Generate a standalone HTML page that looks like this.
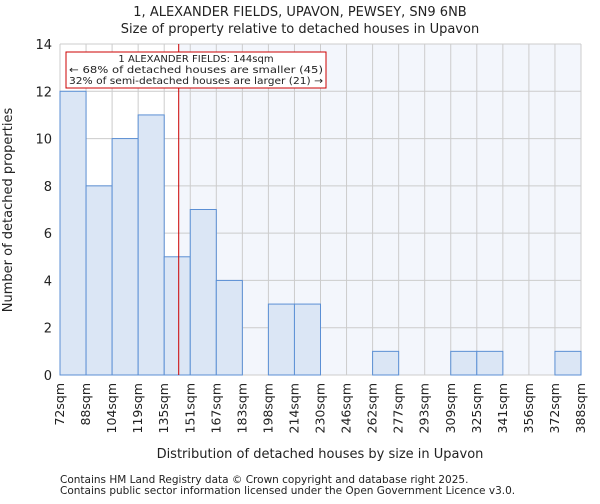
<!DOCTYPE html>
<html><head><meta charset="utf-8"><style>
body{margin:0;background:#fff;font-family:"DejaVu Sans","Liberation Sans",sans-serif;}
svg text{font-family:"DejaVu Sans","Liberation Sans",sans-serif;fill:#222;}
</style></head><body>
<svg id="c" width="600" height="500" xmlns="http://www.w3.org/2000/svg"></svg>
<script>
const categories=["72sqm","88sqm","104sqm","119sqm","135sqm","151sqm","167sqm","183sqm","198sqm","214sqm","230sqm","246sqm","262sqm","277sqm","293sqm","309sqm","325sqm","341sqm","356sqm","372sqm","388sqm"];
const counts=[12,8,10,11,5,7,4,0,3,3,0,0,1,0,0,1,1,0,0,1];
const yTicks=[0,2,4,6,8,10,12,14];
const marker=[144];
const binStart=72,binWidth=15.8;
const X0=60,X1=581,Y0=375,Y1=44,yMax=14;
const n=counts.length;
const xb=i=>X0+(X1-X0)*i/n;
const xv=v=>X0+(X1-X0)*(v-binStart)/(binWidth*n);
const y=v=>Y0-(Y0-Y1)*v/yMax;
const svg=document.getElementById('c');
function add(tag,attrs,txt){const e=document.createElementNS('http://www.w3.org/2000/svg',tag);for(const k in attrs)e.setAttribute(k,attrs[k]);if(txt!==undefined)e.textContent=txt;svg.appendChild(e);return e;}
const mx=xv(marker[0]);
let e=add('rect',{x:mx,y:Y1,width:X1-mx,height:Y0-Y1,fill:'#f3f6fc'});

for(let i=0;i<=n;i++){e=add('line',{x1:xb(i),x2:xb(i),y1:Y1,y2:Y0,stroke:'#ccc','stroke-width':1});
}
yTicks.forEach(t=>{e=add('line',{x1:X0,x2:X1,y1:y(t),y2:y(t),stroke:'#ccc','stroke-width':1});

e=add('text',{x:X0-8,y:y(t)+5,'text-anchor':'end','font-size':13},t);
});
counts.forEach((c,i)=>{if(c<=0)return;e=add('rect',{x:xb(i),y:y(c),width:xb(i+1)-xb(i),height:Y0-y(c),fill:'#dbe6f5',stroke:'#5b8fd4','stroke-width':1});
});
categories.forEach((c,i)=>{const tx=xb(i)+4;e=add('text',{x:tx,y:Y0+8,'text-anchor':'end','font-size':12.5,transform:`rotate(-90 ${tx} ${Y0+8})`},c);
});
e=add('line',{x1:mx,x2:mx,y1:Y1,y2:Y0,stroke:'#cc0000','stroke-width':1});

e=add('rect',{x:66,y:52,width:260,height:36,fill:'#fff',stroke:'#cc0000','stroke-width':1});

[["1 ALEXANDER FIELDS: 144sqm",62],["← 68% of detached houses are smaller (45)",73],["32% of semi-detached houses are larger (21) →",84]].forEach(([t,yy])=>{
e=add('text',{x:196,y:yy,'text-anchor':'middle','font-size':10,textLength:t.length>30?254:0,lengthAdjust:'spacingAndGlyphs'},t);
if(t.length<=30)e.removeAttribute('textLength');
});
e=add('text',{x:300,y:16,'text-anchor':'middle','font-size':13},"1, ALEXANDER FIELDS, UPAVON, PEWSEY, SN9 6NB");

e=add('text',{x:300,y:33,'text-anchor':'middle','font-size':13},"Size of property relative to detached houses in Upavon");

e=add('text',{x:12,y:210,'text-anchor':'middle','font-size':13,transform:'rotate(-90 12 210)'},"Number of detached properties");

e=add('text',{x:320,y:458,'text-anchor':'middle','font-size':13},"Distribution of detached houses by size in Upavon");

e=add('text',{x:60,y:483,'font-size':10.5,fill:'#444'},"Contains HM Land Registry data © Crown copyright and database right 2025.");

e=add('text',{x:60,y:494,'font-size':10.5,fill:'#444'},"Contains public sector information licensed under the Open Government Licence v3.0.");

</script>
</body></html>
